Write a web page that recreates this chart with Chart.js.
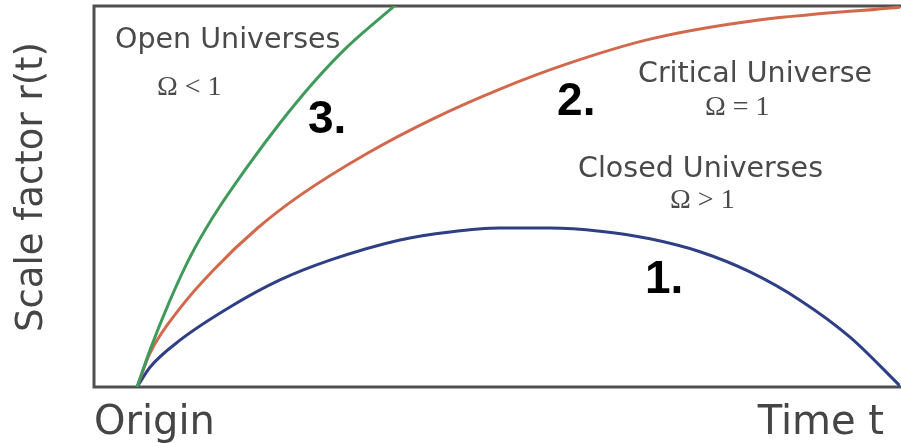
<!DOCTYPE html>
<html>
<head>
<meta charset="utf-8">
<script src="https://cdn.jsdelivr.net/npm/chart.js@4/dist/chart.umd.min.js"></script>
<style>
  html, body { margin: 0; padding: 0; background: #ffffff; }
  #wrap { width: 901px; height: 443px; position: relative; }
</style>
</head>
<body>
<div id="wrap"><canvas id="c" width="901" height="443"></canvas></div>
<script>
// Time t (0 = origin, 100 = right edge); scale factor r(t) (0..100 = frame height)
const openT  = [0, 1.70, 4.33, 6.95, 9.96, 14.42, 18.74, 23.07, 27.52, 33.55, 35.3];
const openR  = [0, 9.7, 22.8, 34.1, 44.6, 57.7, 69.3, 79.8, 89.2, 99.7, 102.7];

const critT  = [0, 1.70, 5.64, 9.96, 15.73, 21.36, 30.14, 38.79, 47.58, 56.36, 67.23, 80.34, 100];
const critR  = [0, 8.9, 20.7, 30.6, 41.6, 50.3, 61.3, 70.4, 78.2, 84.8, 91.3, 96.0, 99.7];

const closT  = [0, 1.70, 5.64, 12.19, 18.74, 25.29, 34.47, 41.02, 47.58, 54.13, 60.68, 67.23, 73.79, 80.34, 86.89, 93.45, 100];
const closR  = [0, 5.2, 12.3, 21.0, 28.1, 33.3, 38.6, 40.7, 41.7, 41.7, 40.9, 38.9, 35.5, 30.2, 22.8, 13.1, 0.3];

const seriesNames = ["Open Universes", "Critical Universe", "Closed Universes"];
const seriesColors = ["#3f9a5c", "#d2694c", "#2f3f86"];

// annotations: [text, t (left edge), r (baseline), kind]
const notes = [
  ["Open Universes", -2.88, 88.98, "label"],
  ["\u03A9 < 1", 2.62, 76.6, "omega"],
  ["3.", 22.41, 66.67, "num"],
  ["2.", 55.05, 71.39, "num"],
  ["Critical Universe", 65.66, 80.05, "label"],
  ["\u03A9 = 1", 74.44, 71.39, "omega"],
  ["Closed Universes", 57.80, 55.12, "label"],
  ["\u03A9 > 1", 69.86, 46.98, "omega"],
  ["1.", 66.58, 24.67, "num"]
];
const xAxisLabels = ["Origin", "Time t"];
const yAxisTitle = "Scale factor r(t)";

const toPts = (ts, rs) => ts.map((t, i) => ({x: t, y: rs[i]}));

const framePlugin = {
  id: 'frame',
  beforeDatasetsDraw(chart) {
    const {ctx, chartArea: a} = chart;
    ctx.save();
    ctx.strokeStyle = '#505050';
    ctx.lineWidth = 3;
    ctx.strokeRect(a.left, a.top, a.right - a.left + 4, a.bottom - a.top);
    ctx.restore();
  },
  afterDraw(chart) {
    const {ctx, chartArea: a, scales} = chart;
    const xs = scales.x, ys = scales.y;
    ctx.save();
    ctx.textBaseline = 'alphabetic';
    for (const [text, t, r, kind] of notes) {
      const px = xs.getPixelForValue(t), py = ys.getPixelForValue(r);
      if (kind === 'label') {
        ctx.font = '28.5px "DejaVu Sans"';
        ctx.fillStyle = '#4a4a4a';
      } else if (kind === 'omega') {
        ctx.font = '28px "Liberation Serif"';
        ctx.fillStyle = '#4a4a4a';
      } else {
        ctx.font = 'bold 46px "Liberation Sans"';
        ctx.fillStyle = '#000000';
      }
      ctx.textAlign = 'left';
      ctx.fillText(text, px, py);
    }
    // axis labels
    ctx.font = '40px "DejaVu Sans"';
    ctx.fillStyle = '#454545';
    ctx.textAlign = 'left';
    ctx.fillText(xAxisLabels[0], a.left, a.bottom + 47);
    ctx.textAlign = 'right';
    ctx.fillText(xAxisLabels[1], a.right - 16, a.bottom + 47);
    ctx.save();
    ctx.translate(42, 187);
    ctx.rotate(-Math.PI / 2);
    ctx.textAlign = 'center';
    ctx.font = '37px "DejaVu Sans"';
    ctx.fillText(yAxisTitle, 0, 0);
    ctx.restore();
    ctx.restore();
  }
};

new Chart(document.getElementById('c'), {
  type: 'line',
  data: {
    datasets: [
      {label: seriesNames[0], data: toPts(openT, openR), borderColor: seriesColors[0]},
      {label: seriesNames[1], data: toPts(critT, critR), borderColor: seriesColors[1]},
      {label: seriesNames[2], data: toPts(closT, closR), borderColor: seriesColors[2]}
    ].map(d => Object.assign(d, {borderWidth: 3, pointRadius: 0, cubicInterpolationMode: 'monotone', fill: false}))
  },
  options: {
    responsive: false,
    animation: false,
    layout: {padding: {left: 94, top: 6, right: 1, bottom: 56}},
    plugins: {legend: {display: false}, tooltip: {enabled: false}},
    scales: {
      x: {type: 'linear', min: -5.64, max: 100, display: false},
      y: {type: 'linear', min: 0, max: 100, display: false}
    }
  },
  plugins: [framePlugin]
});
</script>
</body>
</html>
